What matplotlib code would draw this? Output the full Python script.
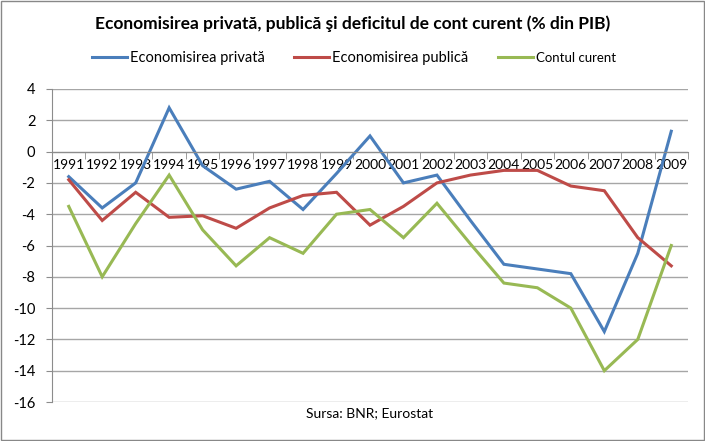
import numpy as np
import matplotlib
matplotlib.use("Agg")
import matplotlib.pyplot as plt

plt.rcParams['font.family'] = ['Lato', 'DejaVu Sans']

# date (% din PIB)
years = [str(y) for y in range(1991, 2010)]
privat = [-1.6, -3.6, -2.0, 2.8, -0.9, -2.4, -1.9, -3.7, -1.4, 1.0,
          -2.0, -1.5, -4.4, -7.2, -7.5, -7.8, -11.5, -6.5, 1.3]
public = [-1.8, -4.4, -2.6, -4.2, -4.1, -4.9, -3.6, -2.8, -2.6, -4.7,
          -3.5, -2.0, -1.5, -1.2, -1.2, -2.2, -2.5, -5.5, -7.3]
cont_curent = [-3.5, -8.0, -4.6, -1.5, -5.0, -7.3, -5.5, -6.5, -4.0, -3.7,
               -5.5, -3.3, -5.9, -8.4, -8.7, -10.0, -14.0, -12.0, -6.0]
series_names = ["Economisirea privată", "Economisirea publică", "Contul curent"]
colors = ["#4a7ebb", "#be4b48", "#98b954"]
yticks = list(range(-16, 5, 2))

fig = plt.figure(figsize=(7.05, 4.41), dpi=100)
ax = fig.add_axes([52 / 705, 39 / 441, 636 / 705, 313 / 441])

x = np.arange(len(years)) + 0.5
for vals, name, c in zip([privat, public, cont_curent], series_names, colors):
    ax.plot(x, vals, color=c, lw=2.2, label=name, solid_joinstyle='miter')

ax.set_xlim(0, len(years))
ax.set_ylim(-16, 4)
ax.set_yticks(yticks)
ax.set_yticklabels([str(v) for v in yticks], fontsize=10.5)
ax.yaxis.grid(True, color='#a6a6a6', lw=1)
ax.set_axisbelow(True)

# axa categoriilor trece prin zero
ax.spines['bottom'].set_position(('data', 0))
ax.spines['bottom'].set_color('#8c8c8c')
ax.spines['left'].set_color('#8c8c8c')
ax.spines['top'].set_visible(False)
ax.spines['right'].set_visible(False)
ax.set_xticks(x)
ax.set_xticklabels(years, fontsize=10)
ax.set_xticks(np.arange(len(years) + 1), minor=True)
ax.tick_params(axis='x', which='major', length=0, pad=5)
ax.tick_params(axis='x', which='minor', length=5, color='#8c8c8c')
ax.tick_params(axis='y', length=4, color='#8c8c8c', pad=8)

fig.text(0.5, 1 - 24 / 441, "Economisirea privată, publică şi deficitul de cont curent (% din PIB)",
         ha='center', va='center', fontsize=12.5, fontweight='bold')
leg = fig.legend(loc='center', bbox_to_anchor=(354 / 705, 1 - 58 / 441), ncol=3, frameon=False,
                 fontsize=10.5, handlelength=2.4, handletextpad=0.2, columnspacing=2.0)
leg.get_texts()[2].set_fontsize(9.5)
fig.text(370 / 705, 1 - 413 / 441, "Sursa: BNR; Eurostat", ha='center', va='center', fontsize=10)

# chenarul graficului
fig.patches.append(plt.Rectangle((0.001, 0.002), 0.997, 0.996, transform=fig.transFigure,
                                 fill=False, edgecolor='#888888', lw=1))

fig.savefig("out.png", dpi=100)
